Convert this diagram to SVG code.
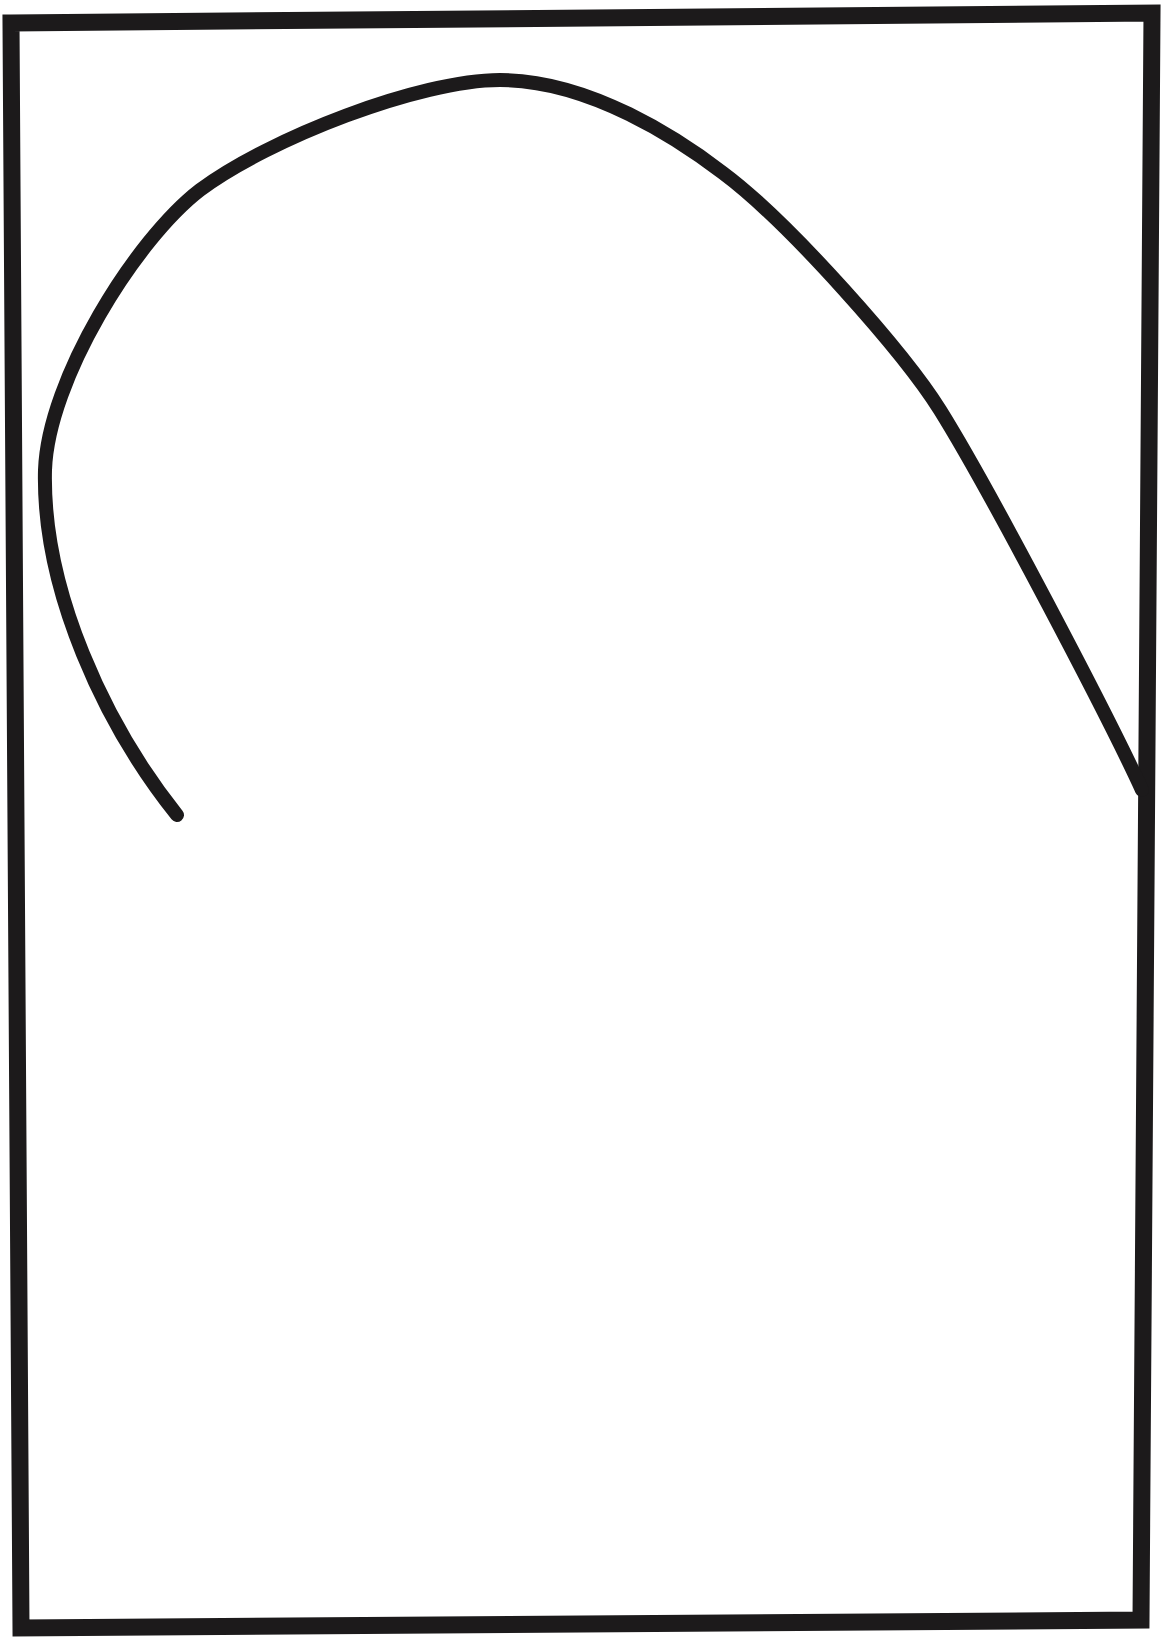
<svg xmlns="http://www.w3.org/2000/svg" width="1166" height="1637" viewBox="0 0 1166 1637">
<style>
.ink{fill:none;stroke:#1c1a1b;stroke-linecap:round}
</style>
<rect width="1166" height="1637" fill="#ffffff"/>
<g id="frame">
<polygon class="ink" points="11,23 1152,13 1141,1620 21,1628" stroke-width="17" stroke-linejoin="miter"/>
</g>
<g id="curve">
<path class="ink" stroke-width="14" stroke-linejoin="round" d="M177,815 C105,725 42,590 45,470 C48,380 135,240 200,190 C270,138 420,80 500,80 C590,80 680,140 723,173 C790,223 905,354 940,410 C990,490 1110,720 1142,790"/>
</g>
</svg>
